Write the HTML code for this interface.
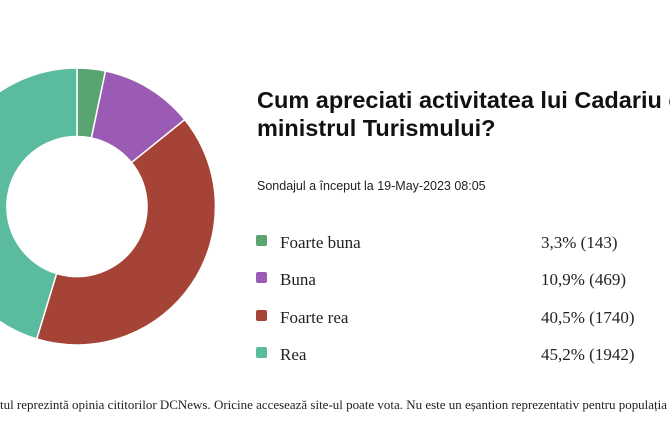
<!DOCTYPE html>
<html><head><meta charset="utf-8"><style>
html,body{margin:0;padding:0;background:#fff;width:670px;height:447px;overflow:hidden}
svg{display:block}
.t{font-family:"Liberation Sans",sans-serif;font-weight:bold;font-size:23.5px;fill:#111}
.s{font-family:"Liberation Sans",sans-serif;font-size:12.5px;fill:#222}
.l{font-family:"Liberation Serif",serif;font-size:17px;fill:#222}
.f{font-family:"Liberation Serif",serif;font-size:13px;fill:#222}
</style></head><body>
<svg width="670" height="447" viewBox="0 0 670 447">
<g stroke="#fff" stroke-width="1.5">
<path d="M77,68 A138.5,138.5 0 0 1 105.5,71 L91.4,138 A70,70 0 0 0 77,136.5 Z" fill="#5aa472"/>
<path d="M105.5,71 A138.5,138.5 0 0 1 184.8,119.6 L131.5,162.6 A70,70 0 0 0 91.4,138 Z" fill="#9b5bb5"/>
<path d="M184.8,119.6 A138.5,138.5 0 0 1 36.7,339 L56.6,273.5 A70,70 0 0 0 131.5,162.6 Z" fill="#a54436"/>
<path d="M36.7,339 A138.5,138.5 0 0 1 77,68 L77,136.5 A70,70 0 0 0 56.6,273.5 Z" fill="#5bbb9f"/>
</g>
<text class="t" x="257" y="108">Cum apreciati activitatea lui Cadariu ca</text>
<text class="t" x="257" y="136">ministrul Turismului?</text>
<text class="s" x="257" y="190">Sondajul a început la 19-May-2023 08:05</text>
<rect x="256" y="235" width="11" height="11" rx="2" fill="#5aa472"/>
<rect x="256" y="272" width="11" height="11" rx="2" fill="#9b5bb5"/>
<rect x="256" y="310" width="11" height="11" rx="2" fill="#a54436"/>
<rect x="256" y="347" width="11" height="11" rx="2" fill="#5bbb9f"/>
<text class="l" x="280" y="248">Foarte buna</text>
<text class="l" x="280" y="285">Buna</text>
<text class="l" x="280" y="323">Foarte rea</text>
<text class="l" x="280" y="360">Rea</text>
<text class="l" x="541" y="248">3,3% (143)</text>
<text class="l" x="541" y="285">10,9% (469)</text>
<text class="l" x="541" y="323">40,5% (1740)</text>
<text class="l" x="541" y="360">45,2% (1942)</text>
<text class="f" x="0" y="409" textLength="667" lengthAdjust="spacingAndGlyphs">tul reprezintă opinia cititorilor DCNews. Oricine accesează site-ul poate vota. Nu este un eșantion reprezentativ pentru populația</text>
</svg>
</body></html>
